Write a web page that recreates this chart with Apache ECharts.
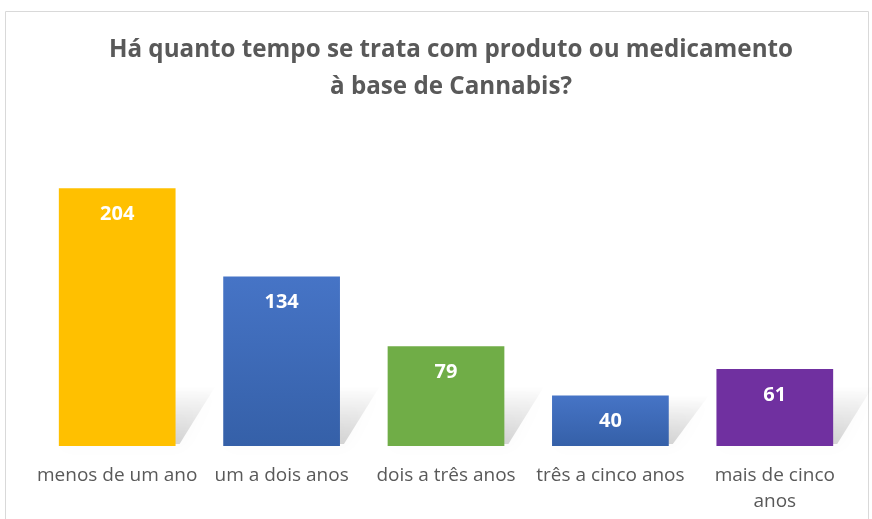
<!DOCTYPE html>
<html><head><meta charset="utf-8">
<script src="https://cdn.jsdelivr.net/npm/echarts@6/dist/echarts.min.js"></script>
<style>html,body{margin:0;padding:0;background:#fff}#c{width:872px;height:519px}</style>
</head><body><div id="c"></div>
<script>
const categories = ['menos de um ano', 'um a dois anos', 'dois a três anos', 'três a cinco anos', 'mais de cinco\nanos'];
const values = [204, 134, 79, 40, 61];
const titleText = 'Há quanto tempo se trata com produto ou medicamento\nà base de Cannabis?';

const chart = echarts.init(document.getElementById('c'));
const gradBlue = new echarts.graphic.LinearGradient(0, 0, 0, 1, [{offset: 0, color: '#4674C6'}, {offset: 1, color: '#3560A8'}]);
const barColors = ['#FFC000', gradBlue, '#70AD47', gradBlue, '#7030A0'];
const font = 'Open Sans, Liberation Sans, sans-serif';

chart.setOption({
  animation: false,
  graphic: [{type: 'rect', shape: {x: 5.5, y: 11.5, width: 863, height: 520}, style: {fill: 'none', stroke: '#d9d9d9', lineWidth: 1}, z: -10}],
  title: {
    text: titleText, left: 446, top: 27, textAlign: 'center',
    textStyle: {fontFamily: font, fontWeight: 'bold', fontSize: 24.2, color: '#595959', lineHeight: 37}
  },
  grid: {left: 35, right: 15, top: 130, bottom: 73, containLabel: false},
  xAxis: {
    type: 'category', data: categories,
    axisLine: {show: false}, axisTick: {show: false},
    axisLabel: {fontFamily: font, fontSize: 19, color: '#595959', margin: 17, lineHeight: 26, interval: 0}
  },
  yAxis: {type: 'value', min: 0, max: 250, show: false, splitLine: {show: false}},
  series: [
    {
      type: 'custom', z: 1, silent: true,
      data: values.map((v, i) => [i, v]),
      renderItem: function (params, api) {
        const base = api.coord([api.value(0), 0]);
        const top = api.coord([api.value(0), api.value(1)]);
        const bw = api.size([1, 0])[0] * 0.71;
        const xl = base[0] - bw / 2, xr = base[0] + bw / 2;
        const h = Math.min(base[1] - top[1], 60);
        const dx = 40;
        return {
          type: 'polygon',
          shape: {points: [[xl + 4, base[1] - 2], [xr + 4, base[1] - 2], [xr + dx, base[1] - h], [xl + dx, base[1] - h]]},
          style: {
            fill: new echarts.graphic.LinearGradient(0, 1, 0, 0, [{offset: 0, color: 'rgba(0,0,0,0.16)'}, {offset: 1, color: 'rgba(0,0,0,0)'}]),
            shadowBlur: 16, shadowColor: 'rgba(0,0,0,0.18)'
          }
        };
      }
    },
    {
      type: 'bar', z: 2, barWidth: '71%',
      data: values.map((v, i) => ({value: v, itemStyle: {color: barColors[i]}})),
      label: {
        show: true, position: 'insideTop', distance: 16,
        fontFamily: font, fontWeight: 'bold', fontSize: 20, color: '#ffffff'
      }
    }
  ]
});
</script></body></html>
